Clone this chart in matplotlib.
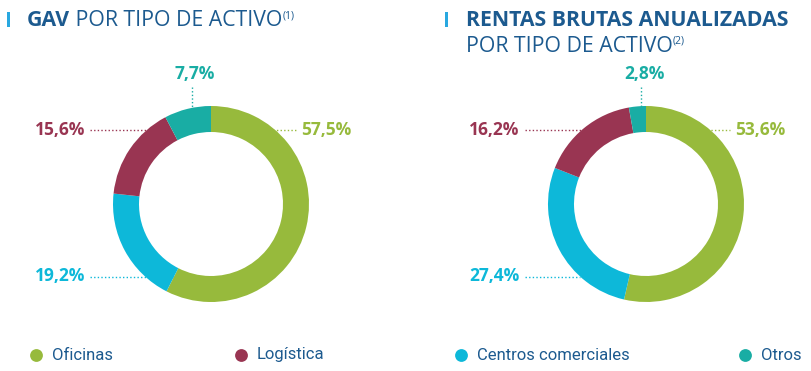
import matplotlib
matplotlib.use("Agg")
import matplotlib.pyplot as plt

# ---- data ----
categories = ["Oficinas", "Centros comerciales", "Logística", "Otros"]
gav_values = [57.5, 19.2, 15.6, 7.7]
rentas_values = [53.6, 27.4, 16.2, 2.8]
gav_labels = ["57,5%", "19,2%", "15,6%", "7,7%"]
rentas_labels = ["53,6%", "27,4%", "16,2%", "2,8%"]
legend_order = ["Oficinas", "Logística", "Centros comerciales", "Otros"]

colors = {"Oficinas": "#97BA3C", "Centros comerciales": "#0DB8D9",
          "Logística": "#993552", "Otros": "#19ADA4"}
title_color = "#1C5A8F"
bar_color = "#29A8E0"

W, H = 812, 371
fig = plt.figure(figsize=(W / 100, H / 100), dpi=100)
ax = fig.add_axes([0, 0, 1, 1])

def Y(y):
    return H - y

FONT = "Open Sans"

def donut(cx, cy, values):
    ax.pie(values, colors=[colors[c] for c in categories], startangle=90,
           counterclock=False, radius=98, center=(cx, Y(cy)),
           wedgeprops=dict(width=26, linewidth=0), frame=True)

def hline(x0, x1, y, c):
    ax.plot([x0, x1], [Y(y), Y(y)], color=c, lw=1.0, ls=(0, (1, 1.6)), zorder=0)

def vline(x, y0, y1, c):
    ax.plot([x, x], [Y(y0), Y(y1)], color=c, lw=1.0, ls=(0, (1, 1.6)), zorder=0)

def label(x, y, s, c):
    ax.text(x, Y(y), s, color=c, fontsize=12.5, fontweight="bold", family=FONT,
            ha="center", va="center")

# left donut
donut(211, 204, gav_values)
hline(262, 297, 130, colors["Oficinas"])
label(326, 130, gav_labels[0], colors["Oficinas"])
hline(90, 160, 130, colors["Logística"])
label(60, 130, gav_labels[2], colors["Logística"])
vline(192, 87, 112, colors["Otros"])
label(195, 74, gav_labels[3], colors["Otros"])
hline(90, 195, 277, colors["Centros comerciales"])
label(60, 276, gav_labels[1], colors["Centros comerciales"])

# right donut
donut(646, 204, rentas_values)
hline(700, 730, 130, colors["Oficinas"])
label(760, 130, rentas_labels[0], colors["Oficinas"])
hline(525, 590, 130, colors["Logística"])
label(494, 130, rentas_labels[2], colors["Logística"])
vline(641, 87, 112, colors["Otros"])
label(644, 74, rentas_labels[3], colors["Otros"])
hline(525, 580, 277, colors["Centros comerciales"])
label(494, 276, rentas_labels[1], colors["Centros comerciales"])

ax.set_xlim(0, W)
ax.set_ylim(0, H)
ax.set_aspect("equal")
ax.axis("off")

# ---- titles ----
fig.canvas.draw()
renderer = fig.canvas.get_renderer()

def runs(x, y, parts):
    for s, weight, size, dy in parts:
        t = ax.text(x, Y(y + dy), s, color=title_color, fontsize=size,
                    fontweight=weight, family=FONT, ha="left", va="baseline")
        bb = t.get_window_extent(renderer)
        x = x + bb.width

ax.add_patch(plt.Rectangle((7, Y(27)), 3.5, 15, color=bar_color, lw=0))
runs(27, 26.5, [("GAV", "bold", 15.3, 0), (" POR TIPO DE ACTIVO", "normal", 15.3, 0),
                ("(1)", "normal", 7.5, -8)])
ax.add_patch(plt.Rectangle((445, Y(27)), 3.5, 15, color=bar_color, lw=0))
runs(466, 26.5, [("RENTAS BRUTAS ANUALIZADAS", "bold", 15.3, 0)])
runs(466, 51.5, [("POR TIPO DE ACTIVO", "normal", 15.3, 0), ("(2)", "normal", 7.5, -8)])

# ---- legend ----
leg_x = [36, 241, 461, 745]
for name, lx in zip(legend_order, leg_x):
    ax.scatter([lx], [Y(355)], s=85, color=colors[name], lw=0)
    ax.text(lx + 16, Y(355), name, color=title_color, fontsize=12, family="Roboto",
            ha="left", va="center")

fig.savefig("out.png", dpi=100)
